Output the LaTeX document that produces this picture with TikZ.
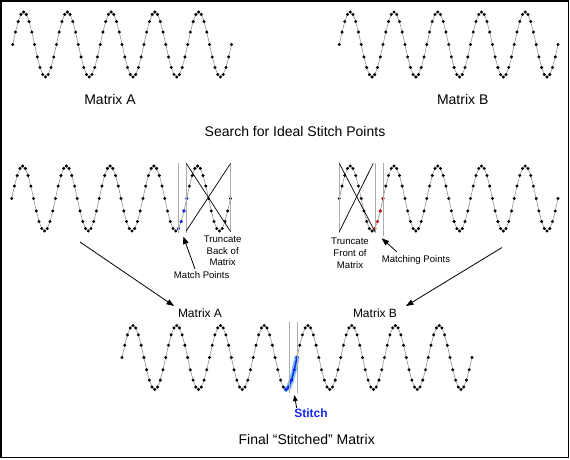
\documentclass[tikz,border=0pt]{standalone}
\usepackage{fontspec}
\setmainfont{Liberation Sans}
\usetikzlibrary{arrows.meta}
\newcommand{\sinewave}[4]{% #1 x0, #2 ymid, #3 amp, #4 last index
  \draw[wline] plot[samples at={0,...,#4}] ({#1+\x*2.734},{#2-#3*sin(22.5*\x)});
  \foreach \i in {0,...,#4} \fill ({#1+\i*2.734},{#2-#3*sin(22.5*\i)}) circle (1.65pt);
}
\newcommand{\hidots}[6]{% #1 x0, #2 ymid, #3 amp, #4 from, #5 to, #6 colour
  \foreach \i in {#4,...,#5} \fill[#6] ({#1+\i*2.734},{#2-#3*sin(22.5*\i)}) circle (1.65pt);
}
\definecolor{glowblue}{RGB}{120,195,255}
\definecolor{stitchblue}{RGB}{20,40,255}
\definecolor{matchred}{RGB}{230,20,20}
\begin{document}
\begin{tikzpicture}[x=1pt,y=-1pt,
  wline/.style={draw=gray!85, line width=0.6pt},
  guide/.style={draw=gray!65, line width=0.6pt},
  xline/.style={draw=black, line width=0.7pt},
  arr/.style={draw=black, line width=0.8pt, -{Triangle[length=7.5pt,width=5.5pt]}},
  bigtxt/.style={font=\fontsize{14}{16}\selectfont, anchor=base, inner sep=0pt},
  midtxt/.style={font=\fontsize{12}{14}\selectfont, anchor=base, inner sep=0pt},
  smalltxt/.style={font=\fontsize{9.6}{11.6}\selectfont, inner sep=0pt, align=center}
]
\useasboundingbox (0,0) rectangle (570,459);
\draw[line width=1.8pt] (1,1) rectangle (568.5,457.5);

% top waves
\sinewave{12.7}{44.5}{32.5}{80}
\sinewave{339.3}{44.5}{32.5}{80}
\node[bigtxt] (ta) at (110,104) {Matrix A};
\node[bigtxt] (tb) at (462.7,104) {Matrix B};
\node[bigtxt] (search) at (295,136) {Search for Ideal Stitch Points};

% middle left
\sinewave{11.7}{198.5}{32.5}{80}
\hidots{11.7}{198.5}{32.5}{61}{64}{stitchblue}
\draw[guide] (178.5,163) -- (178.5,233);
\draw[guide] (186.2,163) -- (186.2,233);
\draw[guide] (230.5,163) -- (230.5,232);
\draw[xline] (186.2,163.3) -- (230.5,231.5);
\draw[xline] (230.5,163.5) -- (186.2,231);
\node[smalltxt] (tback) at (222.7,251) {Truncate\\Back of\\Matrix};
\node[smalltxt, anchor=base] (mp) at (201.7,278.5) {Match Points};

% middle right
\sinewave{339.3}{198.5}{32.5}{80}
\hidots{339.3}{198.5}{32.5}{13}{16}{matchred}
\draw[guide] (339.3,163) -- (339.3,233);
\draw[guide] (374.8,163) -- (374.8,233);
\draw[guide] (383.0,163) -- (383.0,236);
\draw[xline] (339.3,163.3) -- (375,231.7);
\draw[xline] (373.3,163.3) -- (339.3,231.7);
\node[smalltxt] (tfront) at (350,253.3) {Truncate\\Front of\\Matrix};
\node[smalltxt, anchor=base] (mgp) at (416,262.5) {Matching Points};

% bottom labels
\node[midtxt] (ba) at (200,317) {Matrix A};
\node[midtxt] (bb) at (375,317) {Matrix B};

% bottom wave
\draw[glowblue, line width=5pt, line cap=round, line join=round]
  plot[samples at={60,...,64}] ({122+\x*2.734},{357.5-32*sin(22.5*\x)});
\sinewave{122}{357.5}{32}{128}
\draw[stitchblue, line width=1.5pt, line cap=round, line join=round]
  plot[samples at={60,...,64}] ({122+\x*2.734},{357.5-32*sin(22.5*\x)});
\hidots{122}{357.5}{32}{60}{64}{stitchblue}
\draw[guide] (288.8,321.7) -- (288.8,393);
\draw[guide] (297.0,321.7) -- (297.0,393);
\node[font=\fontsize{12}{14}\selectfont\bfseries, text=stitchblue, anchor=base, inner sep=0pt] (st) at (311,417.6) {Stitch};
\node[bigtxt] (fin) at (306.7,444.3) {Final “Stitched” Matrix};

% arrows
\coordinate (a1s) at (80,242);
\coordinate (a1e) at (174,306);
\coordinate (a2s) at (502,247.5);
\coordinate (a2e) at (406,306);
\coordinate (mps) at (195,269);
\coordinate (mpe) at (183.3,236.5);
\coordinate (mgs) at (396.7,251.7);
\coordinate (mge) at (381.7,238.3);
\coordinate (sts) at (296.7,408);
\coordinate (ste) at (294.3,395);
\draw[arr] (a1s) -- (a1e);
\draw[arr] (a2s) -- (a2e);
\draw[arr] (mps) -- (mpe);
\draw[arr] (mgs) -- (mge);
\draw[draw=black, line width=0.8pt, -{Triangle[length=6pt,width=4.5pt]}] (sts) -- (ste);
\end{tikzpicture}
\end{document}
